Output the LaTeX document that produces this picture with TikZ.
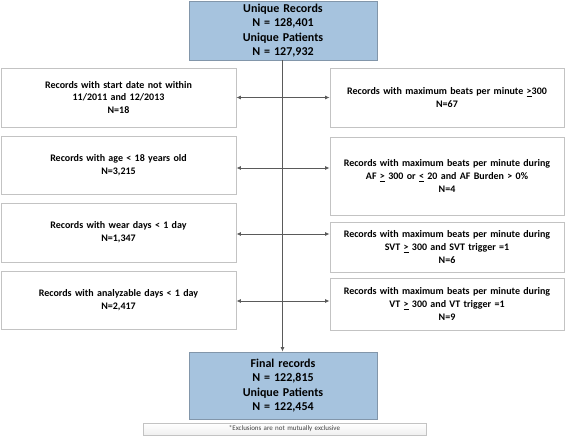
\documentclass[tikz,border=0pt]{standalone}
\usepackage{fontspec}
\setmainfont{Carlito}
\usetikzlibrary{arrows.meta}
\definecolor{bluefill}{RGB}{166,195,222}
\definecolor{blueedge}{RGB}{130,150,170}
\definecolor{boxedge}{RGB}{195,195,195}
\definecolor{arrowgray}{RGB}{90,90,90}
\tikzset{
  bluebox/.style={draw=blueedge, fill=bluefill, line width=0.8pt, inner sep=0pt, align=center,
    font=\fontsize{12}{14.3}\selectfont\bfseries},
  whitebox/.style={draw=boxedge, fill=white, line width=0.8pt, inner sep=0pt, align=center,
    font=\fontsize{10}{12.7}\selectfont\bfseries},
  footbox/.style={draw=boxedge, top color=white, bottom color=gray!12, line width=0.6pt, inner sep=0pt, align=center,
    font=\fontsize{7}{8}\selectfont, text=black!75},
  conn/.style={draw=arrowgray, line width=0.9pt},
  tip/.style={-{Latex[length=4.5pt,width=4pt]}},
  tips/.style={{Latex[length=4.5pt,width=4pt]}-{Latex[length=4.5pt,width=4pt]}}
}
\newcommand{\bx}[6]{% name, style, x1,y1,x2,y2 ; text follows
  \node[#2, minimum width={(#5-#3)*1pt}, minimum height={(#6-#4)*1pt}, text width={(#5-#3-6)*1pt}]
    (#1) at ({(#3+#5)/2},{(#4+#6)/2})}
\begin{document}
\begin{tikzpicture}[x=1pt,y=-1pt]
\useasboundingbox (0,0) rectangle (567,437);
\bx{top}{bluebox}{189}{1}{377}{60} {Unique Records\\N = 128,401\\Unique Patients\\N = 127,932};
\bx{L1}{whitebox}{1}{68}{236}{127} {Records with start date not within\\11/2011 and 12/2013\\N=18};
\bx{R1}{whitebox}{330}{68}{564}{127} {Records with maximum beats per minute \underline{>}300\\N=67};
\bx{L2}{whitebox}{1}{136}{236}{194} {Records with age < 18 years old\\N=3,215};
\bx{R2}{whitebox}{330}{137}{564}{215} {Records with maximum beats per minute during\\AF \underline{>} 300 or \underline{<} 20 and AF Burden > 0\%\\N=4};
\bx{L3}{whitebox}{1}{203}{236}{262} {Records with wear days < 1 day\\N=1,347};
\bx{R3}{whitebox}{330}{222}{564}{272} {Records with maximum beats per minute during\\SVT \underline{>} 300 and SVT trigger =1\\N=6};
\bx{L4}{whitebox}{1}{271}{236}{329} {Records with analyzable days < 1 day\\N=2,417};
\bx{R4}{whitebox}{330}{278}{564}{330} {Records with maximum beats per minute during\\VT \underline{>} 300 and VT trigger =1\\N=9};
\bx{final}{bluebox}{189}{352}{377}{419} {Final records\\N = 122,815\\Unique Patients\\N = 122,454};
\bx{foot}{footbox}{143}{423}{426}{435} {*Exclusions are not mutually exclusive};
\draw[conn, tip] (top.south -| 282.5,0) -- (final.north -| 282.5,0);
\draw[conn, tips] (L1.east) -- (L1.east -| R1.west);
\draw[conn, tips] ([yshift=-3pt]L2.east) -- ([yshift=-3pt]L2.east -| R2.west);
\draw[conn, tips] ([yshift=-1.5pt]L3.east) -- ([yshift=-1.5pt]L3.east -| R3.west);
\draw[conn, tips] ([yshift=-1pt]L4.east) -- ([yshift=-1pt]L4.east -| R4.west);
\end{tikzpicture}
\end{document}
